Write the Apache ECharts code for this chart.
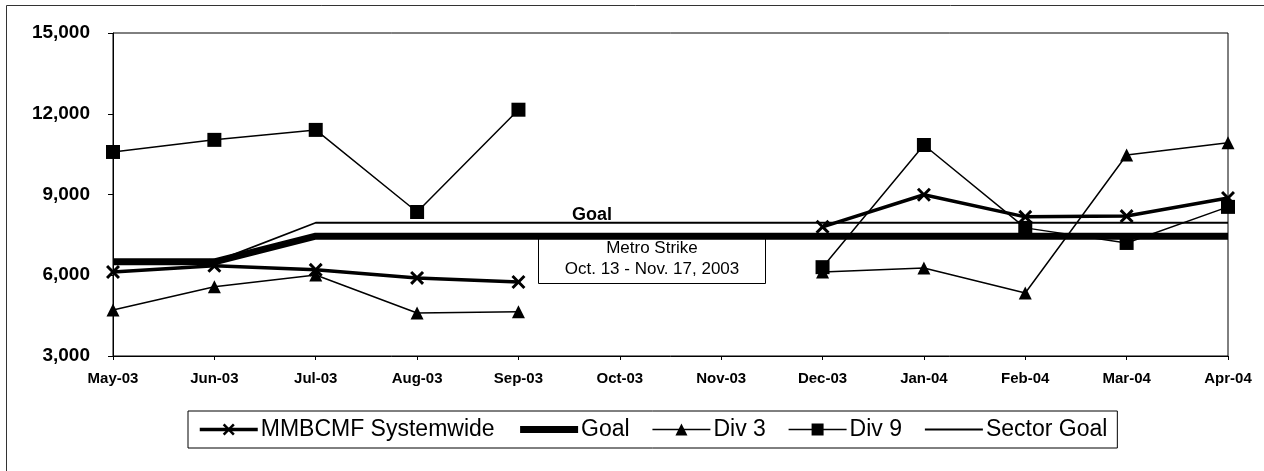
<!DOCTYPE html>
<html>
<head>
<meta charset="utf-8">
<script src="https://cdn.jsdelivr.net/npm/echarts@6/dist/echarts.min.js"></script>
<style>
  html,body{margin:0;padding:0;background:#fff;}
  #b{width:1264px;height:471px;}
</style>
</head>
<body>
<div id="b"></div>
<script>
var months=['May-03','Jun-03','Jul-03','Aug-03','Sep-03','Oct-03','Nov-03','Dec-03','Jan-04','Feb-04','Mar-04','Apr-04'];
var systemwide=[6120,6350,6200,5900,5750,null,null,7800,8990,8170,8200,8870];
var goal=[6500,6500,7450,7450,7450,7450,7450,7450,7450,7450,7450,7450];
var div3=[4710,5570,6010,4600,4640,null,null,6120,6270,5340,10470,10920];
var div9=[10580,11030,11400,8350,12150,null,null,6300,10840,7760,7200,8540];
var sectorGoal=[6500,6500,7950,7950,7950,7950,7950,7950,7950,7950,7950,7950];
var yTicks=[3000,15000,3000]; // min, max, step

var xMark='path://M0,1.5L1.5,0L5,3.5L8.5,0L10,1.5L6.5,5L10,8.5L8.5,10L5,6.5L1.5,10L0,8.5L3.5,5Z';
var font='Arial, "Liberation Sans", sans-serif';

var myChart=echarts.init(document.getElementById('b'));
var option={
  animation:false,
  backgroundColor:'#fff',
  grid:{left:113,right:36,top:33,bottom:115,show:true,borderColor:'#000',borderWidth:1},
  xAxis:{
    type:'category',
    data:months,
    boundaryGap:false,
    axisLine:{lineStyle:{color:'#000',width:1}},
    axisTick:{show:true,length:4,lineStyle:{color:'#000'}},
    axisLabel:{color:'#000',fontFamily:font,fontWeight:'bold',fontSize:15,margin:15}
  },
  yAxis:{
    type:'value',
    min:yTicks[0],max:yTicks[1],interval:yTicks[2],
    splitLine:{show:false},
    axisLine:{show:true,lineStyle:{color:'#000',width:1}},
    axisTick:{show:true,length:5,lineStyle:{color:'#000'}},
    axisLabel:{color:'#000',fontFamily:font,fontWeight:'bold',fontSize:19,margin:23,
      formatter:function(v){return v.toLocaleString('en-US');}}
  },
  legend:{
    left:188,top:411,
    padding:[7,10],
    itemGap:22,
    itemWidth:58,itemHeight:15,
    borderColor:'#000',borderWidth:1,
    lineStyle:{width:'inherit'},
    textStyle:{color:'#000',fontFamily:font,fontSize:23,padding:[0,0,0,-2]},
    data:[
      {name:'MMBCMF Systemwide'},
      {name:'Goal',itemStyle:{opacity:0}},
      {name:'Div 3'},
      {name:'Div 9'},
      {name:'Sector Goal',itemStyle:{opacity:0}}
    ]
  },
  series:[
    {name:'Sector Goal',type:'line',data:sectorGoal,symbol:'none',
      lineStyle:{color:'#000',width:1.8},itemStyle:{color:'#000'},z:2},
    {name:'Goal',type:'line',data:goal,symbol:'none',
      lineStyle:{color:'#000',width:7},itemStyle:{color:'#000'},z:3},
    {name:'Div 3',type:'line',data:div3,symbol:'triangle',symbolSize:13,
      lineStyle:{color:'#000',width:1.5},itemStyle:{color:'#000'},z:4},
    {name:'Div 9',type:'line',data:div9,symbol:'rect',symbolSize:14,
      lineStyle:{color:'#000',width:1.5},itemStyle:{color:'#000'},z:4},
    {name:'MMBCMF Systemwide',type:'line',data:systemwide,symbol:xMark,symbolSize:14,
      lineStyle:{color:'#000',width:3.5},itemStyle:{color:'#000'},z:5}
  ],
  graphic:[
    {type:'rect',silent:true,z:1,shape:{x:6.5,y:5.5,width:1300,height:500},
      style:{fill:null,stroke:'#333',lineWidth:1}},
    {type:'text',z:10,style:{x:592,y:215,text:'Goal',fill:'#000',
      font:'bold 18px '+font,textAlign:'center',textVerticalAlign:'middle'}},
    {type:'group',z:20,children:[
      {type:'rect',shape:{x:538.5,y:235.5,width:227,height:48},
        style:{fill:'#fff',stroke:'#000',lineWidth:1}},
      {type:'text',style:{x:652,y:248,text:'Metro Strike',fill:'#000',
        font:'17px '+font,textAlign:'center',textVerticalAlign:'middle'}},
      {type:'text',style:{x:652,y:269,text:'Oct. 13 - Nov. 17, 2003',fill:'#000',
        font:'17px '+font,textAlign:'center',textVerticalAlign:'middle'}}
    ]}
  ]
};
option && myChart.setOption(option);
window.addEventListener("resize",function(){myChart.resize();});
</script>
</body>
</html>
